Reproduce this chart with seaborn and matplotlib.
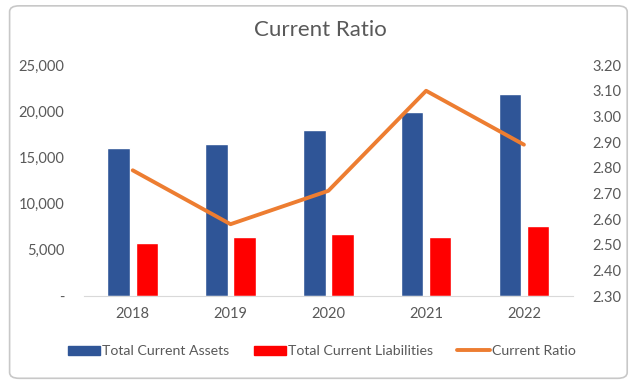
import pandas as pd
import seaborn as sns
import matplotlib.pyplot as plt
from matplotlib.patches import FancyBboxPatch, Patch
from matplotlib.lines import Line2D
from matplotlib.ticker import FuncFormatter

years = ["2018", "2019", "2020", "2021", "2022"]
total_current_assets = [16040, 16470, 17990, 19900, 21820]
total_current_liabilities = [5740, 6390, 6680, 6440, 7550]
current_ratio = [2.79, 2.58, 2.71, 3.10, 2.89]

series_names = ["Total Current Assets", "Total Current Liabilities", "Current Ratio"]
colors = {"Total Current Assets": "#2F5597", "Total Current Liabilities": "#FF0000"}
line_color = "#ED7D31"
text_color = "#595959"

bars = pd.DataFrame({
    "year": years * 2,
    "series": [series_names[0]] * 5 + [series_names[1]] * 5,
    "value": total_current_assets + total_current_liabilities,
})
ratio = pd.DataFrame({"year": years, "ratio": current_ratio})

sns.set_style("white")
plt.rcParams["font.family"] = ["Lato", "DejaVu Sans"]

fig = plt.figure(figsize=(6.4, 3.9), dpi=100)
# rounded card border
fig.patches.append(FancyBboxPatch((0.015, 0.03), 0.965, 0.955, boxstyle="round,pad=0,rounding_size=0.015",
                                  transform=fig.transFigure, facecolor="white", edgecolor="#C8C8C8",
                                  linewidth=1.2, zorder=-1))
ax = fig.add_axes([0.131, 0.241, 0.764, 0.592])

sns.barplot(data=bars, x="year", y="value", hue="series", palette=colors,
            width=0.575, gap=0.2, ax=ax, legend=False, saturation=1)
ax.set_ylim(0, 25000)
ax.set_xlim(-0.5, 4.5)
ax.set_yticks(range(0, 25001, 5000))
ax.yaxis.set_major_formatter(FuncFormatter(lambda v, p: "-" if v == 0 else f"{v:,.0f}"))
ax.set_xlabel("")
ax.set_ylabel("")
for s in ["top", "right", "left"]:
    ax.spines[s].set_visible(False)
ax.spines["bottom"].set_color("#D9D9D9")
ax.tick_params(axis="both", length=0, colors=text_color, labelsize=10.5)
ax.tick_params(axis="y", pad=14)
ax.tick_params(axis="x", pad=8)
ax.patch.set_alpha(0)

ax2 = ax.twinx()
sns.lineplot(data=ratio, x="year", y="ratio", color=line_color, linewidth=2.8, sort=False, ax=ax2)
ax2.set_ylim(2.30, 3.20)
ax2.set_yticks([2.30 + 0.1 * i for i in range(10)])
ax2.yaxis.set_major_formatter(FuncFormatter(lambda v, p: f"{v:.2f}"))
ax2.set_ylabel("")
for s in ["top", "right", "left", "bottom"]:
    ax2.spines[s].set_visible(False)
ax2.tick_params(axis="y", length=0, colors=text_color, labelsize=10.5, pad=14)

fig.text(0.5, 0.922, "Current Ratio", ha="center", va="center", fontsize=16, color=text_color)

handles = [Patch(color=colors[series_names[0]]), Patch(color=colors[series_names[1]]),
           Line2D([0], [0], color=line_color, linewidth=2.8)]
fig.legend(handles, series_names, loc="center", bbox_to_anchor=(0.503, 0.1), ncol=3, frameon=False,
           fontsize=10.2, labelcolor=text_color, handlelength=2.3, handleheight=0.6,
           handletextpad=0.15, columnspacing=1.7)

fig.savefig("out.png", dpi=100)
